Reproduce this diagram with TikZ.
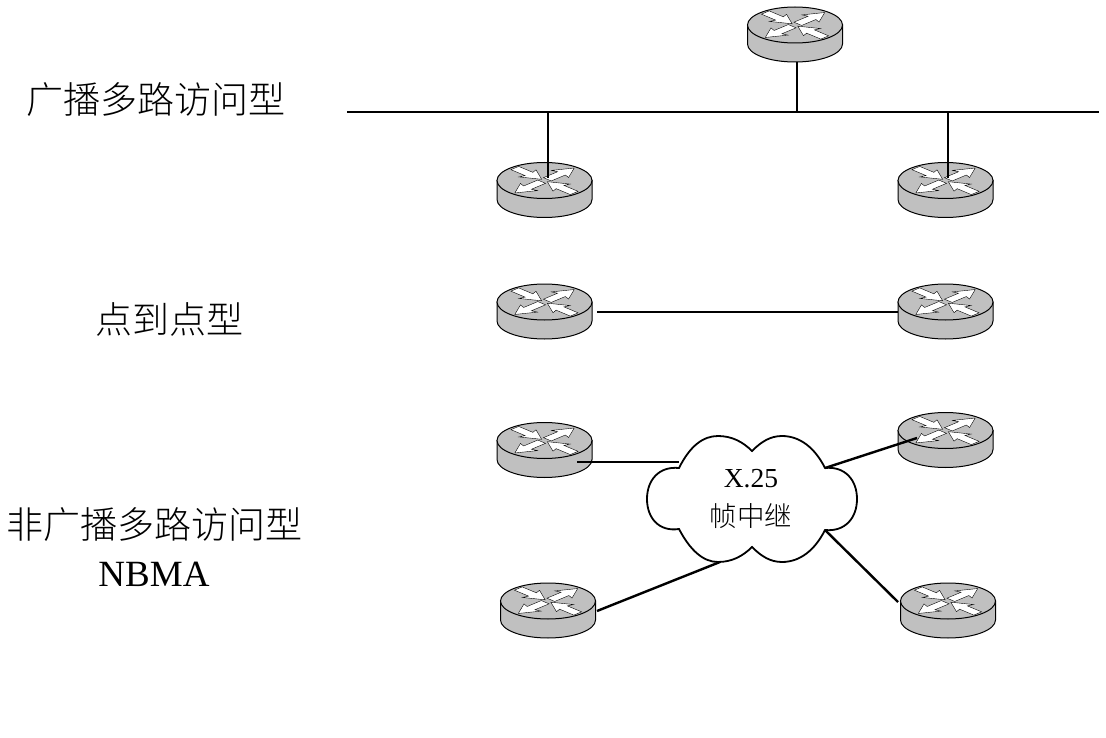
\documentclass[tikz,border=0pt]{standalone}
\usepackage{fontspec}
\setmainfont{Liberation Serif}
\newfontfamily\cjk{Noto Sans CJK SC Light}
\definecolor{routergray}{HTML}{C0C0C0}
\tikzset{
  routerbox/.style={shape=rectangle, draw=none, minimum width=95pt, minimum height=55pt, inner sep=0pt},
  typelabel/.style={align=center, font=\fontsize{37}{48}\selectfont},
  cloudlabel/.style={align=center, font=\fontsize{27.5}{39}\selectfont},
  wire/.style={-, line width=2.4pt, draw=black},
  router/.pic={
    \draw[line width=1pt, fill=routergray] (-47.5,-9.5) -- (-47.5,9.5) arc[start angle=180, end angle=0, x radius=47.5, y radius=18] -- (47.5,-9.5) -- cycle;
    \draw[line width=1pt, fill=routergray] (0,-9.5) ellipse[x radius=47.5, y radius=18];
    % two arrows point out, two point in
    \foreach \ang in {45,225} {
      \draw[line width=0.4pt, fill=white, yshift=9.5pt, yscale=0.42, rotate=\ang]
        (4,-5.5) -- (24,-5.5) -- (22,-12) -- (42,0) -- (22,12) -- (24,5.5) -- (4,5.5) -- cycle;
    }
    \foreach \ang in {135,315} {
      \draw[line width=0.4pt, fill=white, yshift=9.5pt, yscale=0.42, rotate=\ang]
        (42,-5.5) -- (22,-5.5) -- (24,-12) -- (4,0) -- (24,12) -- (22,5.5) -- (42,5.5) -- cycle;
    }
  }
}
\begin{document}
\begin{tikzpicture}[x=1pt, y=-1pt]
\useasboundingbox (0,0) rectangle (1106,738);
% routers, top to bottom
\node[routerbox] (R1) at (795,34.5) {};
\node[routerbox] (R2) at (544.5,190) {};
\node[routerbox] (R3) at (945.5,190) {};
\node[routerbox] (R4) at (544.5,311.5) {};
\node[routerbox] (R5) at (945.5,311.5) {};
\node[routerbox] (R6) at (544.5,450) {};
\node[routerbox] (R7) at (945.5,440) {};
\node[routerbox] (R8) at (548,610.5) {};
\node[routerbox] (R9) at (948,610.5) {};
\foreach \r in {R1,R2,R3,R4,R5,R6,R7,R8,R9} {
  \pic at (\r) {router};
}
% frame relay cloud
\node[shape=rectangle, draw=none, minimum width=210pt, minimum height=126pt] (C) at (752,499) {};
\draw[line width=1.8pt, fill=white] (679,468) .. controls (690,446) and (703,436) .. (718,436)
  .. controls (732,436) and (743,442) .. (752,451)
  .. controls (761,442) and (770,436) .. (782,436)
  .. controls (800,436) and (815,448) .. (825,468)
  .. controls (845,466) and (857,480) .. (857,499)
  .. controls (857,518) and (845,532) .. (825,530)
  .. controls (815,550) and (800,562) .. (782,562)
  .. controls (770,562) and (761,556) .. (752,547)
  .. controls (743,556) and (732,562) .. (718,562)
  .. controls (703,562) and (690,550) .. (679,529)
  .. controls (659,532) and (647,518) .. (647,499)
  .. controls (647,480) and (659,466) .. (679,468) -- cycle;
\node[cloudlabel] (CT) at (751,499) {X.25\\{\cjk 帧中继}};
% free ends of the wires
\coordinate (BL) at (347,112);
\coordinate (BR) at (1099,112);
\coordinate (T1) at (797,112);
\coordinate (T2) at (548,112);
\coordinate (T3) at (948,112);
\coordinate (P1) at (797,62);
\coordinate (P2) at (548,178);
\coordinate (P3) at (948,178);
\coordinate (P4) at (597,312);
\coordinate (P5) at (898,312);
\coordinate (P6) at (577,462);
\coordinate (C6) at (679,462);
\coordinate (P7) at (917,438);
\coordinate (C7) at (825,468);
\coordinate (P8) at (597,611);
\coordinate (C8) at (720,562);
\coordinate (P9) at (898,602);
\coordinate (C9) at (825,530);
\path [wire] (BL) edge (BR);
\path [wire] (T1) edge (P1);
\path [wire] (T2) edge (P2);
\path [wire] (T3) edge (P3);
\path [wire] (P4) edge (P5);
\path [wire] (P6) edge (C6);
\path [wire] (P7) edge (C7);
\path [wire] (P8) edge (C8);
\path [wire] (P9) edge (C9);
% network type labels
\node[typelabel] (L1) at (156,100) {\cjk 广播多路访问型};
\node[typelabel] (L2) at (169,319) {\cjk 点到点型};
\node[typelabel] (L3) at (154,547) {{\cjk 非广播多路访问型}\\NBMA};
\end{tikzpicture}
\end{document}
